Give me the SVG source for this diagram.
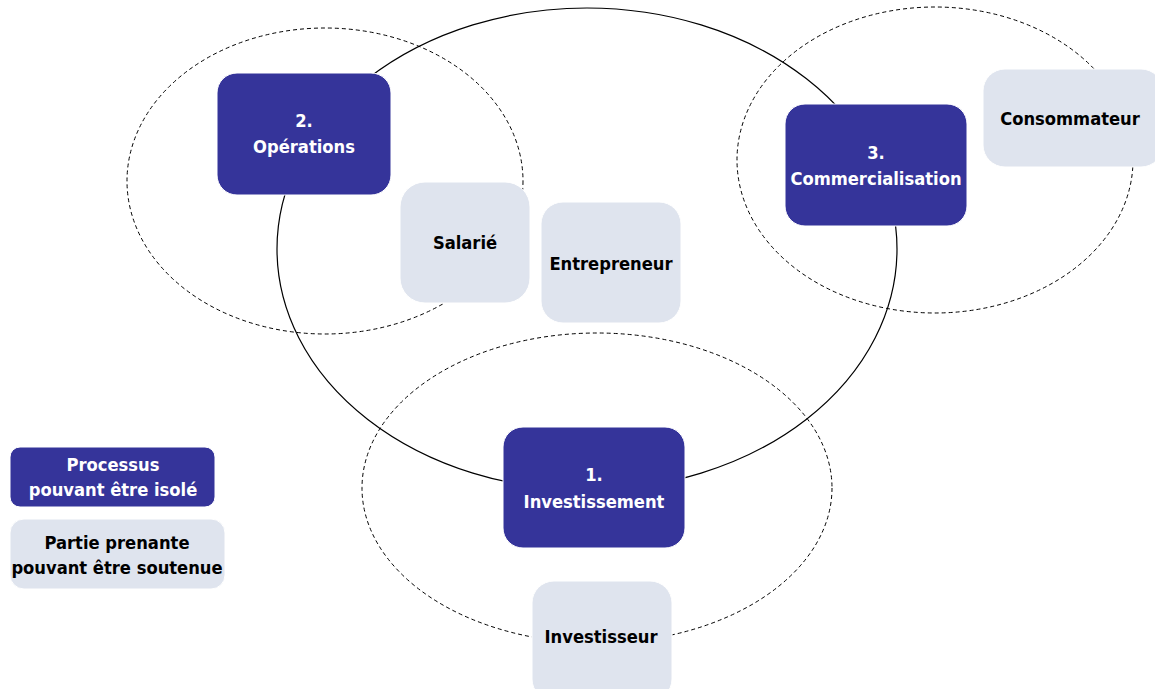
<svg xmlns="http://www.w3.org/2000/svg" width="1155" height="689" viewBox="0 0 1155 689">
<style>
.solid{fill:none;stroke:#000;stroke-width:1.2}
.dash{fill:none;stroke:#000;stroke-width:1;stroke-dasharray:4 3}
.proc{fill:#35349A;stroke:#fff;stroke-width:1}
.part{fill:#DFE4EE;stroke:#fff;stroke-width:1}
text{font-family:"DejaVu Sans Condensed","DejaVu Sans",sans-serif;font-weight:bold;font-size:18.2px;text-anchor:middle}
.w{fill:#fff}
.k{fill:#000}
</style>
<rect width="1155" height="689" fill="#fff"/>
<g id="connectors">
<ellipse class="solid" cx="587" cy="249" rx="310" ry="241"/>
<ellipse class="dash" cx="325" cy="181" rx="198" ry="153"/>
<ellipse class="dash" cx="935" cy="160" rx="198" ry="153"/>
<ellipse class="dash" cx="597" cy="488" rx="235" ry="155"/>
</g>
<g id="operations">
<rect class="proc" x="217" y="73" width="174" height="122" rx="20"/>
<text class="w" x="304" y="127">2.</text>
<text class="w" x="304" y="153">Opérations</text>
</g>
<g id="salarie">
<rect class="part" x="400" y="182" width="130" height="121" rx="25"/>
<text class="k" x="465" y="249">Salarié</text>
</g>
<g id="entrepreneur">
<rect class="part" x="541" y="202" width="140" height="121" rx="22"/>
<text class="k" x="611" y="270">Entrepreneur</text>
</g>
<g id="commercialisation">
<rect class="proc" x="785" y="104" width="182" height="122" rx="20"/>
<text class="w" x="876" y="159">3.</text>
<text class="w" x="876" y="185">Commercialisation</text>
</g>
<g id="consommateur">
<rect class="part" x="983" y="69" width="180" height="98" rx="22"/>
<text class="k" x="1070" y="125">Consommateur</text>
</g>
<g id="investissement">
<rect class="proc" x="503" y="427" width="182" height="121" rx="20"/>
<text class="w" x="594" y="481">1.</text>
<text class="w" x="594" y="508">Investissement</text>
</g>
<g id="investisseur">
<rect class="part" x="532" y="581" width="140" height="120" rx="22"/>
<text class="k" x="601" y="643">Investisseur</text>
</g>
<g id="legend-processus">
<rect class="proc" x="10" y="447" width="205" height="60" rx="10"/>
<text class="w" x="113" y="471">Processus</text>
<text class="w" x="113" y="496">pouvant être isolé</text>
</g>
<g id="legend-partie">
<rect class="part" x="10" y="519" width="215" height="70" rx="14"/>
<text class="k" x="117" y="549">Partie prenante</text>
<text class="k" x="117" y="574">pouvant être soutenue</text>
</g>
</svg>
